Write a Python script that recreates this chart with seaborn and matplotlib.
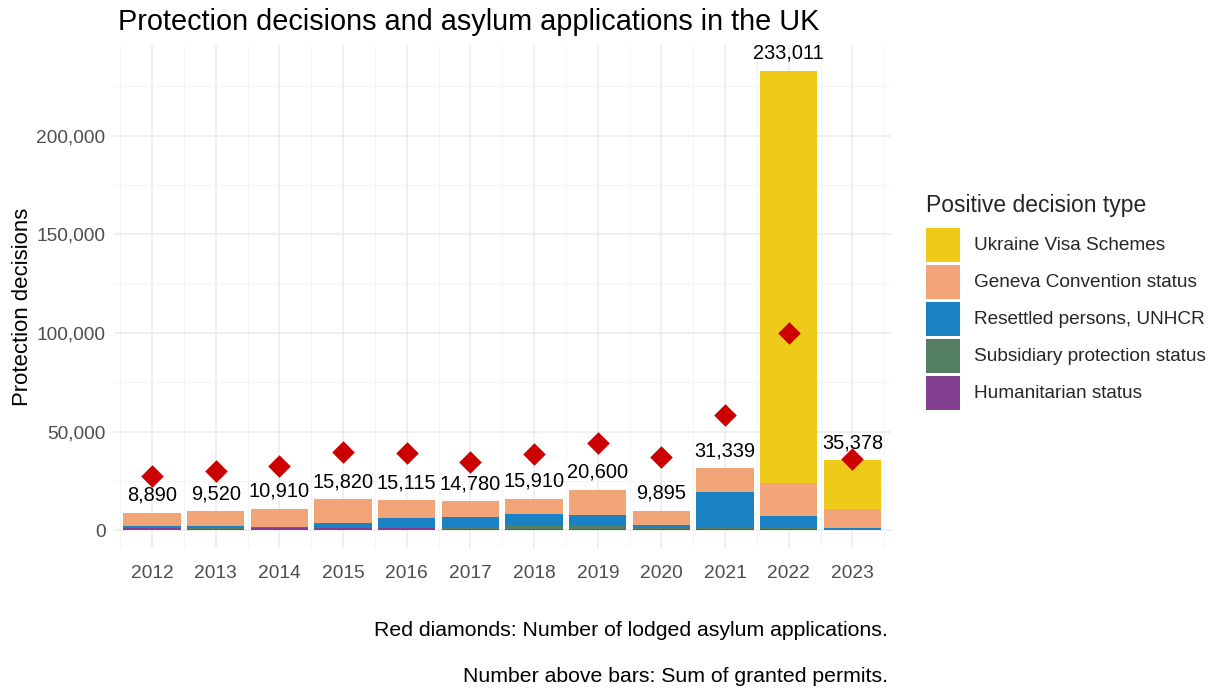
import matplotlib
matplotlib.use("Agg")
import matplotlib.pyplot as plt
import seaborn as sns
import numpy as np
import pandas as pd
from matplotlib.patches import Patch
from matplotlib.ticker import FuncFormatter, MultipleLocator

years = ["2012", "2013", "2014", "2015", "2016", "2017", "2018", "2019", "2020", "2021", "2022", "2023"]
humanitarian = [1000, 900, 1000, 1100, 1000, 600, 800, 800, 700, 500, 400, 300]
subsidiary = [300, 250, 300, 300, 300, 400, 1500, 1400, 700, 800, 700, 300]
resettled = [1100, 950, 500, 2300, 5100, 5900, 5800, 5400, 1100, 18100, 6100, 500]
geneva = [6490, 7420, 9110, 12120, 8715, 7880, 7810, 13000, 7395, 11939, 16700, 9700]
ukraine = [0, 0, 0, 0, 0, 0, 0, 0, 0, 0, 209111, 24578]
totals = [8890, 9520, 10910, 15820, 15115, 14780, 15910, 20600, 9895, 31339, 233011, 35378]
applications = [27600, 30000, 32500, 39700, 39200, 34400, 38600, 44300, 36900, 58400, 100000, 36200]

series_names = ["Humanitarian status", "Subsidiary protection status", "Resettled persons, UNHCR",
                "Geneva Convention status", "Ukraine Visa Schemes"]
series_vals = [humanitarian, subsidiary, resettled, geneva, ukraine]
colors = ["#823F8F", "#557F61", "#1A81C2", "#F0A477", "#EFCB19"]

sns.set_theme(style="whitegrid")
plt.rcParams['font.family'] = ['Liberation Sans', 'DejaVu Sans']

fig = plt.figure(figsize=(12.2, 6.89), dpi=100)
ax = fig.add_axes([0.0934, 0.2046, 0.6366, 0.7301])

cum = np.cumsum(np.array(series_vals), axis=0)
# draw from top layer down so lower layers overlay
for i in range(len(series_names) - 1, -1, -1):
    df = pd.DataFrame({"year": years, "value": cum[i]})
    sns.barplot(data=df, x="year", y="value", order=years, color=colors[i],
                width=0.9, saturation=1, ax=ax, edgecolor="none", linewidth=0)

dfa = pd.DataFrame({"year": years, "apps": applications})
sns.stripplot(data=dfa, x="year", y="apps", order=years, jitter=False, marker="D",
              size=11.5, color="#CC0000", ax=ax, zorder=5, linewidth=0)

for i, t in enumerate(totals):
    ax.text(i, t + 4000, f"{t:,}", ha="center", va="bottom", fontsize=14.4, color="black")

ax.set_xlim(-0.6, 11.6)
ax.set_ylim(-9000, 246000)
ax.yaxis.set_major_locator(MultipleLocator(50000))
ax.yaxis.set_minor_locator(MultipleLocator(25000))
ax.set_xticks(range(len(years)))
ax.set_xticks(np.arange(-0.5, 12, 1), minor=True)
ax.yaxis.set_major_formatter(FuncFormatter(lambda v, p: f"{int(v):,}"))
ax.grid(which="major", color="#EBEBEB", linewidth=1.1)
ax.grid(which="minor", color="#F2F2F2", linewidth=0.6)
ax.set_axisbelow(True)
for s in ax.spines.values():
    s.set_visible(False)
ax.tick_params(axis="both", which="both", length=0, labelsize=13.8, colors="#4D4D4D", pad=6)
ax.tick_params(axis="x", labelcolor="#4D4D4D", pad=12)
ax.set_xlabel("")
ax.set_ylabel("Protection decisions", fontsize=15.9, color="black")
ax.yaxis.set_label_coords(-0.104, 0.48)

fig.text(118 / 1220, 1 - 22 / 689, "Protection decisions and asylum applications in the UK",
         fontsize=20.8, ha="left", va="center", color="black")

leg_fs = 13.7
fpx = leg_fs * 100 / 72
hh = (34 / fpx - 0.245) / 0.65
handles = [Patch(facecolor=colors[i], edgecolor="none") for i in range(len(colors) - 1, -1, -1)]
labels = [series_names[i] for i in range(len(series_names) - 1, -1, -1)]
leg = fig.legend(handles, labels, title="Positive decision type", loc="upper left",
                 bbox_to_anchor=(918 / 1220, 1 - 186 / 689), frameon=False,
                 fontsize=leg_fs, title_fontsize=16.5, handlelength=34 / fpx, handleheight=hh,
                 labelspacing=3 / fpx, handletextpad=0.75, borderaxespad=0)
leg._legend_box.align = "left"
leg._legend_box.sep += 8 * 72 / 100

fig.text(888 / 1220, 1 - 630 / 689, "Red diamonds: Number of lodged asylum applications.",
         fontsize=15.3, ha="right", va="center", color="black")
fig.text(888 / 1220, 1 - 676 / 689, "Number above bars: Sum of granted permits.",
         fontsize=15.3, ha="right", va="center", color="black")

fig.savefig("out.png", dpi=100)
